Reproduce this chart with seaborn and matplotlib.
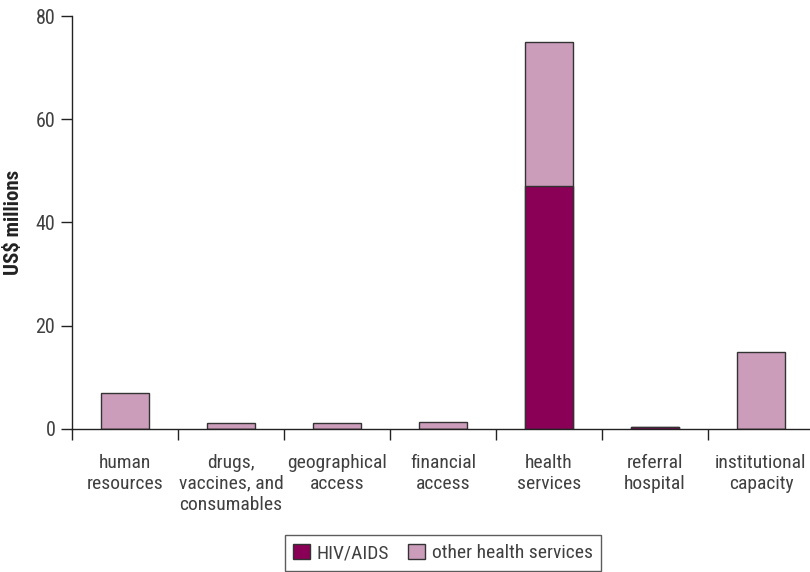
import matplotlib
matplotlib.use('Agg')
import matplotlib.pyplot as plt
import matplotlib.patches as mpatches
import numpy as np
import pandas as pd
import seaborn as sns

# Kategori dan nilai (US$ juta)
categories = ['human\nresources', 'drugs,\nvaccines, and\nconsumables', 'geographical\naccess',
              'financial\naccess', 'health\nservices', 'referral\nhospital', 'institutional\ncapacity']
hiv_aids = [0, 0, 0, 0, 47, 0.3, 0]
other_health = [7, 1.2, 1.2, 1.4, 28, 0, 15]

HIV_COLOR = '#8a0057'
OTHER_COLOR = '#cc9dbb'
EDGE = '#333333'
TEXT = '#404040'

sns.set_theme(style='white')
plt.rcParams['font.family'] = ['Roboto Condensed', 'DejaVu Sans']

df = pd.DataFrame({
    'category': categories,
    'hiv': hiv_aids,
    'total': np.array(hiv_aids) + np.array(other_health),
})

fig = plt.figure(figsize=(8.1, 5.72), dpi=100)
ax = fig.add_axes([72 / 810, 1 - 429 / 572, 742 / 810, 413 / 572])

sns.barplot(data=df, x='category', y='total', color=OTHER_COLOR, saturation=1,
            width=0.45, edgecolor=EDGE, linewidth=1, ax=ax)
sns.barplot(data=df, x='category', y='hiv', color=HIV_COLOR, saturation=1,
            width=0.45, edgecolor=EDGE, linewidth=1, ax=ax)

ax.set_xlim(-0.5, len(categories) - 0.5)
ax.set_ylim(0, 80)
ax.set_yticks([0, 20, 40, 60, 80])
ax.set_xlabel('')
ax.set_ylabel('US$ millions', fontsize=15, fontweight='bold', color='#222222', labelpad=9)

# tick kategori di batas antar kategori
ax.set_xticks(np.arange(len(categories)))
ax.set_xticklabels(categories, fontsize=14, color=TEXT, linespacing=1.2)
ax.set_xticks(np.arange(len(categories) + 1) - 0.5, minor=True)
ax.tick_params(axis='x', which='major', length=0, pad=18)
ax.tick_params(axis='x', which='minor', length=8, width=1, color='#222222', direction='out', bottom=True)
ax.tick_params(axis='y', length=8, width=1, color='#222222', direction='out', left=True,
               labelsize=14.5, labelcolor=TEXT, pad=4)

for side in ['top', 'right']:
    ax.spines[side].set_visible(False)
for side in ['left', 'bottom']:
    ax.spines[side].set_color('#222222')
    ax.spines[side].set_linewidth(1)

handles = [mpatches.Patch(facecolor=HIV_COLOR, edgecolor=EDGE, label='HIV/AIDS'),
           mpatches.Patch(facecolor=OTHER_COLOR, edgecolor=EDGE, label='other health services')]
leg = fig.legend(handles=handles, loc='upper center', bbox_to_anchor=(443 / 810, 1 - 535 / 572),
                 ncol=2, frameon=True, fancybox=False, edgecolor='#333333', fontsize=14,
                 handlelength=0.85, handleheight=0.85, handletextpad=0.35, columnspacing=1.0,
                 borderpad=0.45, borderaxespad=0)
leg.get_frame().set_linewidth(1)
for t in leg.get_texts():
    t.set_color(TEXT)

plt.savefig('out.png', dpi=100)
